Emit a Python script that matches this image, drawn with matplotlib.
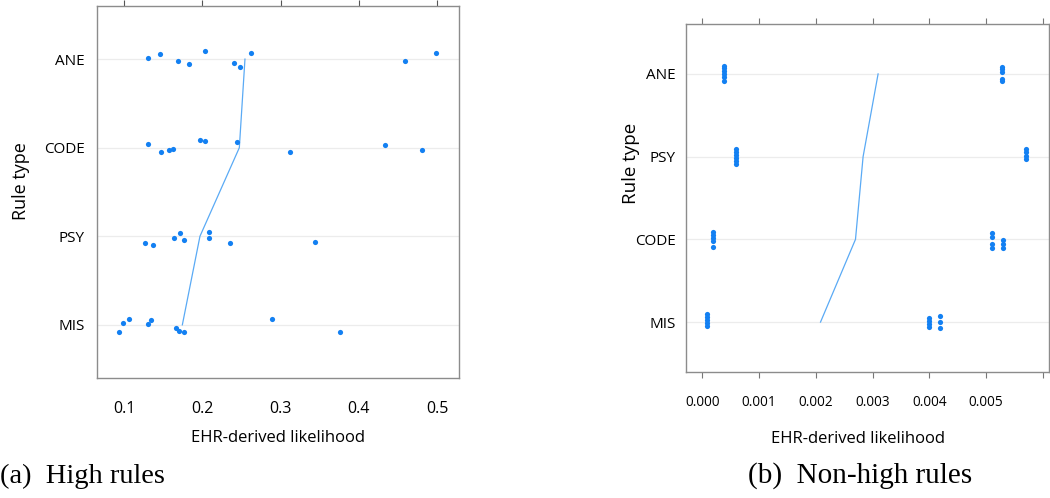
import matplotlib
matplotlib.use("Agg")
import matplotlib.pyplot as plt

# ---- data (a) high rules ----
high_cats = ['MIS', 'PSY', 'CODE', 'ANE']   # bottom -> top
high_x = {
    'ANE':  [0.131, 0.146, 0.169, 0.183, 0.204, 0.240, 0.248, 0.262, 0.459, 0.499],
    'CODE': [0.130, 0.147, 0.158, 0.162, 0.197, 0.203, 0.244, 0.312, 0.433, 0.481],
    'PSY':  [0.127, 0.137, 0.164, 0.172, 0.176, 0.209, 0.209, 0.236, 0.344],
    'MIS':  [0.094, 0.099, 0.106, 0.130, 0.135, 0.166, 0.170, 0.176, 0.289, 0.376],
}
high_jit = {
    'ANE':  [0.016, 0.056, -0.023, -0.052, 0.095, -0.041, -0.094, 0.068, -0.023, 0.068],
    'CODE': [0.041, -0.050, -0.023, -0.011, 0.082, 0.074, 0.068, -0.050, 0.034, -0.027],
    'PSY':  [-0.071, -0.097, -0.018, 0.042, -0.045, 0.045, -0.018, -0.071, -0.060],
    'MIS':  [-0.086, 0.016, 0.061, 0.008, 0.050, -0.034, -0.074, -0.086, 0.068, -0.086],
}
high_mean = [0.1745, 0.197, 0.2473, 0.2545]
high_ticks = [0.1, 0.2, 0.3, 0.4, 0.5]

# ---- data (b) non-high rules ----
low_cats = ['MIS', 'CODE', 'PSY', 'ANE']
low_x = {
    'ANE':  [0.000382] * 6 + [0.005286] * 5,
    'PSY':  [0.000593] * 6 + [0.005701] * 4,
    'CODE': [0.000183] * 5 + [0.005098] * 4 + [0.005303] * 3,
    'MIS':  [0.000088] * 5 + [0.003995] * 4 + [0.004195] * 3,
}
low_jit = {
    'ANE':  [0.10, 0.066, 0.03, -0.006, -0.042, -0.085, 0.085, 0.055, 0.025, -0.06, -0.09],
    'PSY':  [0.094, 0.058, 0.022, -0.014, -0.05, -0.087, 0.088, 0.052, 0.01, -0.033],
    'CODE': [0.09, 0.054, 0.018, -0.018, -0.097, 0.072, 0.03, -0.06, -0.103, -0.006, -0.054, -0.103],
    'MIS':  [0.1, 0.064, 0.028, -0.008, -0.05, 0.052, 0.016, -0.026, -0.063, 0.075, 0.004, -0.077],
}
low_mean = [0.002083, 0.002699, 0.002833, 0.003097]
low_ticks = [0.000, 0.001, 0.002, 0.003, 0.004, 0.005, 0.006]
low_ticklabels = ['0.000', '0.001', '0.002', '0.003', '0.004', '0.005', '']

dot_col = '#1380f2'
line_col = '#5aaaf5'
frame_col = '#8c8c8c'

plt.rcParams['font.family'] = ['Open Sans', 'DejaVu Sans']

fig = plt.figure(figsize=(10.5, 4.98), dpi=100)
axa = fig.add_axes([0.0924, 0.241, 0.3448, 0.747])
axb = fig.add_axes([0.653, 0.2536, 0.346, 0.6976])


def draw(ax, cats, xs, jits, means):
    for i, c in enumerate(cats):
        ys = [i + j for j in jits[c]]
        ax.scatter(xs[c], ys, s=14, color=dot_col, linewidths=0, zorder=3)
        ax.axhline(i, color='#ececec', lw=0.9, zorder=1)
    ax.plot(means, range(len(cats)), color=line_col, lw=0.9, zorder=2)
    ax.set_yticks(range(len(cats)))
    ax.set_yticklabels(cats)
    ax.set_ylim(-0.6, len(cats) - 0.4)
    for s in ax.spines.values():
        s.set_color(frame_col)
        s.set_linewidth(1.0)
    ax.tick_params(axis='y', length=0, labelsize=11)


draw(axa, high_cats, high_x, high_jit, high_mean)
axa.set_xlim(0.0655, 0.528)
axa.set_xticks(high_ticks)
axa.set_xticklabels([str(t) for t in high_ticks])
axa.tick_params(axis='x', top=True, bottom=False, direction='out', length=4.5,
                color='#555555', labelsize=11.5, pad=12)
axa.tick_params(axis='y', pad=9)
axa.set_xlabel('EHR-derived likelihood', fontsize=12)
axa.xaxis.set_label_coords(0.5, -0.14)
axa.set_ylabel('Rule type', fontsize=13)
axa.yaxis.set_label_coords(-0.185, 0.53)

draw(axb, low_cats, low_x, low_jit, low_mean)
axb.set_xlim(-0.000292, 0.006106)
axb.set_xticks(low_ticks)
axb.set_xticklabels(low_ticklabels)
axb.tick_params(axis='x', top=True, bottom=True, direction='out', length=4,
                color='#777777', labelsize=9.8, pad=13)
axb.tick_params(axis='y', pad=7)
axb.set_xlabel('EHR-derived likelihood', fontsize=12)
axb.xaxis.set_label_coords(0.475, -0.17)
axb.set_ylabel('Rule type', fontsize=13.5)
axb.yaxis.set_label_coords(-0.126, 0.6)

fig.text(0.0, 0.03, '(a)  High rules', family='Liberation Serif', fontsize=20.5,
         ha='left', va='baseline')
fig.text(0.8195, 0.03, '(b)  Non-high rules', family='Liberation Serif', fontsize=21,
         ha='center', va='baseline')

fig.savefig('out.png', dpi=100)
